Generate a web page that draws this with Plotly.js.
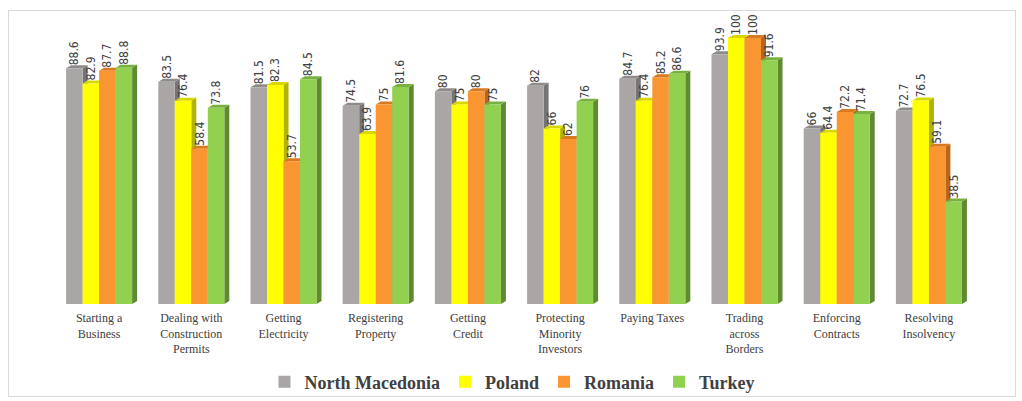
<!DOCTYPE html>
<html>
<head>
<meta charset="utf-8">
<script src="https://cdn.plot.ly/plotly-3.0.1.min.js"></script>
<style>
html,body{margin:0;padding:0;background:#fff;}
#frame{position:absolute;left:8px;top:10px;width:1006px;height:385px;border:1px solid #d9d9d9;}
#chart{width:1006px;height:385px;}
</style>
</head>
<body>
<div id="frame"><div id="chart"></div></div>
<script>
const categories = ["Starting a<br>Business","Dealing with<br>Construction<br>Permits","Getting<br>Electricity","Registering<br>Property","Getting<br>Credit","Protecting<br>Minority<br>Investors","Paying Taxes","Trading<br>across<br>Borders","Enforcing<br>Contracts","Resolving<br>Insolvency"];
const seriesNames = ["North Macedonia","Poland","Romania","Turkey"];
const northMacedonia = [88.6, 83.5, 81.5, 74.5, 80, 82, 84.7, 93.9, 66, 72.7];
const poland = [82.9, 76.4, 82.3, 63.9, 75, 66, 76.4, 100, 64.4, 76.5];
const romania = [87.7, 58.4, 53.7, 75, 80, 62, 85.2, 100, 72.2, 59.1];
const turkey = [88.8, 73.8, 84.5, 81.6, 75, 76, 86.6, 91.6, 71.4, 38.5];
const seriesValues = [northMacedonia, poland, romania, turkey];
const frontColors = ["#aaa6a6","#ffff00","#fa9632","#92d050"];
const sideColors = ["#777474","#b2b200","#b8661c","#5e8a32"];
const topColors = ["#8f8b8b","#d8d800","#d97a22","#7ab040"];

const BARGAP = 0.284;
const traces = seriesNames.map((name, j) => ({
  type: "bar",
  name: name,
  x: categories.map((c, i) => i),
  y: seriesValues[j],
  marker: {color: frontColors[j], line: {width: 0}},
  text: seriesValues[j].map(v => String(v)),
  textposition: "outside",
  textangle: -90,
  cliponaxis: false,
  constraintext: "none",
  textfont: {family: "Liberation Sans Narrow, DejaVu Sans Condensed, Arial Narrow, sans-serif", size: 12, color: "#404040"},
  hoverinfo: "name+y"
}));

// 3D side/top faces derived from the data through axis coordinates
const plotW = 922, plotH = 274, yMax = 103;
const dx = 5 / (plotW / categories.length);
const dy = 3 / (plotH / yMax);
const gw = 1 - BARGAP, bw = gw / seriesNames.length;
const shapes = [];
seriesValues.forEach((vals, j) => {
  vals.forEach((v, i) => {
    const left = i - gw / 2 + j * bw;
    const right = left + bw;
    shapes.push({type: "path", xref: "x", yref: "y", layer: "below",
      path: `M${right},0 L${right+dx},${dy} L${right+dx},${v+dy} L${right},${v} Z`,
      fillcolor: sideColors[j], line: {width: 0}});
    shapes.push({type: "path", xref: "x", yref: "y", layer: "below",
      path: `M${left},${v} L${left+dx},${v+dy} L${right+dx},${v+dy} L${right},${v} Z`,
      fillcolor: topColors[j], line: {width: 0}});
  });
});

const layout = {
  width: 1006, height: 385,
  margin: {l: 44, r: 40, t: 19, b: 92, autoexpand: false},
  paper_bgcolor: "#ffffff",
  plot_bgcolor: "#ffffff",
  barmode: "group",
  bargap: BARGAP,
  bargroupgap: 0,
  showlegend: true,
  legend: {orientation: "h", xref: "container", yref: "container", x: 0.5, xanchor: "center", y: 0.036, yanchor: "middle",
    font: {family: "Liberation Serif, Times New Roman, serif", size: 18, color: "#404040", weight: "bold"},
    itemwidth: 30, traceorder: "normal"},
  xaxis: {
    type: "linear",
    range: [-0.5, categories.length - 0.5],
    tickmode: "array",
    tickvals: categories.map((c, i) => i),
    ticktext: categories,
    showgrid: false, zeroline: false, showline: false, ticks: "",
    ticklabelstandoff: 5,
    tickfont: {family: "Liberation Serif, Times New Roman, serif", size: 12, color: "#404040"},
    tickangle: 0,
    automargin: false,
    fixedrange: true
  },
  yaxis: {
    range: [0, yMax],
    showgrid: false, zeroline: false, showline: false, showticklabels: false, ticks: "",
    automargin: false,
    fixedrange: true
  },
  shapes: shapes
};

Plotly.newPlot("chart", traces, layout, {displayModeBar: false, staticPlot: true});
</script>
</body>
</html>
